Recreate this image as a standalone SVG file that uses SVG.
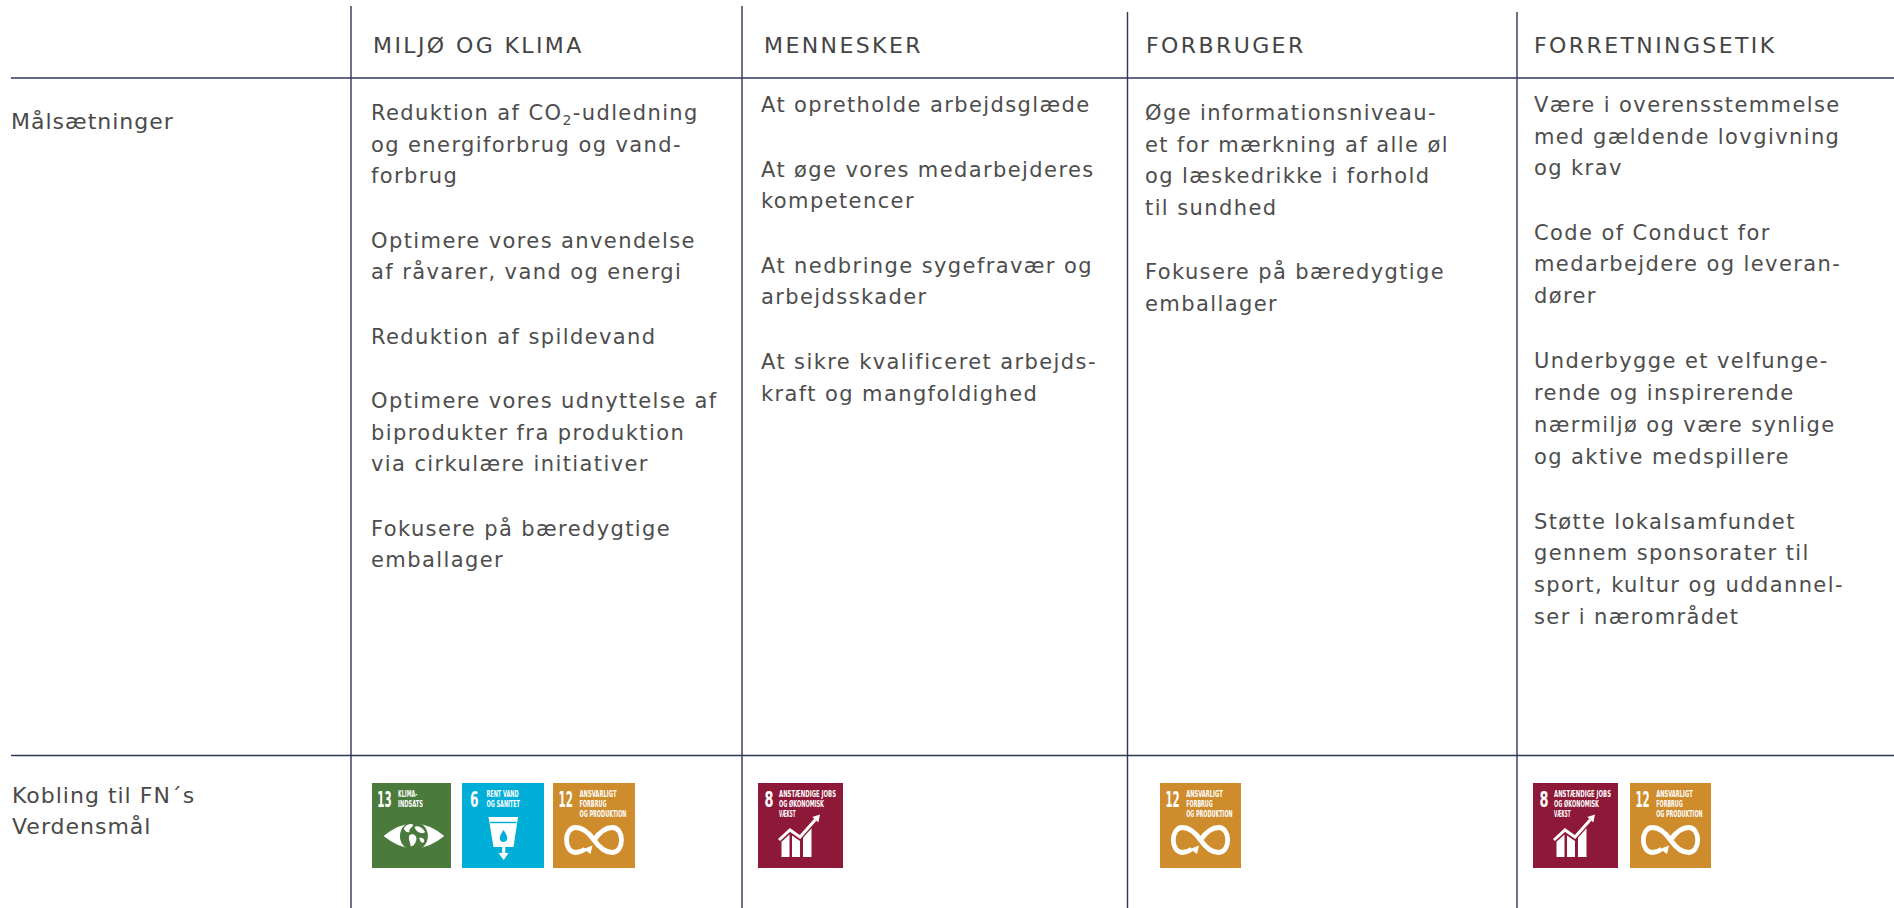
<svg xmlns="http://www.w3.org/2000/svg" xmlns:xlink="http://www.w3.org/1999/xlink" width="1894" height="908" viewBox="0 0 1894 908">
<style>
.ln{stroke:#2f3656;stroke-width:1.4;fill:none}
.hd{font-family:"DejaVu Sans","Liberation Sans",sans-serif;font-size:22px;letter-spacing:2.4px;fill:#444}
.lb{font-family:"DejaVu Sans","Liberation Sans",sans-serif;font-size:22px;letter-spacing:1px;fill:#4a4a4a}
.tx{font-family:"DejaVu Sans","Liberation Sans",sans-serif;font-size:21px;letter-spacing:1.4px;fill:#4d4d4d}
.num{font-family:"DejaVu Sans Condensed","DejaVu Sans",sans-serif;font-weight:bold;font-size:22px;fill:#fff}
.sm{font-family:"DejaVu Sans Condensed","DejaVu Sans",sans-serif;font-weight:bold;font-size:8.2px;fill:#fff}
</style>
<defs>
<symbol id="sdg13" viewBox="0 0 82 85" preserveAspectRatio="none">
<rect width="82" height="85" fill="#4a7a3c"/>
<text class="num" x="5.5" y="24" textLength="15" lengthAdjust="spacingAndGlyphs">13</text>
<text class="sm" x="27" y="14" textLength="20" lengthAdjust="spacingAndGlyphs">KLIMA-</text>
<text class="sm" x="27" y="24" textLength="26" lengthAdjust="spacingAndGlyphs">INDSATS</text>
<path d="M12,53 Q43.5,28 75,53 Q43.5,78 12,53 Z" fill="#fff"/>
<circle cx="43.5" cy="53" r="14.5" fill="#4a7a3c"/>
<path d="M33,45 C36,41 41,40 43,42 C41,45 38,46 39,49 C36,50 34,48 33,45 Z M44,44 C48,42 53,45 55,49 C53,51 50,50 48,49 C46,48 45,46 44,44 Z M39,52 C43,50 47,53 46,57 C45,61 42,64 40,63 C40,59 37,56 39,52 Z M49,55 C52,54 55,56 54,59 C52,61 50,59 49,55 Z" fill="#fff"/>
</symbol>
<symbol id="sdg6" viewBox="0 0 82 85" preserveAspectRatio="none">
<rect width="82" height="85" fill="#00aed8"/>
<text class="num" x="8" y="24" textLength="8.5" lengthAdjust="spacingAndGlyphs">6</text>
<text class="sm" x="24.5" y="14" textLength="32" lengthAdjust="spacingAndGlyphs">RENT VAND</text>
<text class="sm" x="24.5" y="24" textLength="33.5" lengthAdjust="spacingAndGlyphs">OG SANITET</text>
<polygon points="26.5,34 56,34 51.5,64 31.5,64" fill="#fff"/>
<line x1="28" y1="39.5" x2="54.5" y2="39.5" stroke="#00aed8" stroke-width="1.4"/>
<path d="M41.5,47 C38.5,51.5 37.5,54 37.8,56 A3.8,3.8 0 0 0 45.2,56 C45.5,54 44.5,51.5 41.5,47 Z" fill="#00aed8"/>
<rect x="40.2" y="63" width="3" height="8" fill="#fff"/>
<polygon points="36.5,70 46.5,70 41.7,77" fill="#fff"/>
</symbol>
<symbol id="sdg12" viewBox="0 0 82 85" preserveAspectRatio="none">
<rect width="82" height="85" fill="#ce8c2c"/>
<text class="num" x="5.5" y="24" textLength="14.5" lengthAdjust="spacingAndGlyphs">12</text>
<text class="sm" x="26.5" y="14" textLength="37" lengthAdjust="spacingAndGlyphs">ANSVARLIGT</text>
<text class="sm" x="26.5" y="24" textLength="27" lengthAdjust="spacingAndGlyphs">FORBRUG</text>
<text class="sm" x="26.5" y="34" textLength="47" lengthAdjust="spacingAndGlyphs">OG PRODUKTION</text>
<path d="M41,57 C48,47 54,44.5 59.5,44.5 C65.5,44.5 68.5,51 68.5,57 C68.5,63 65.5,69.5 59.5,69.5 C54,69.5 48,67 41,57 C34,47 28,44.5 22.5,44.5 C16.5,44.5 13.5,51 13.5,57 C13.5,63 16.5,69.5 22.5,69.5 C26,69.5 29.5,68 32,66" fill="none" stroke="#fff" stroke-width="4.8"/>
<polygon points="39.5,62.5 37.5,71 30.5,66" fill="#fff"/>
</symbol>
<symbol id="sdg8" viewBox="0 0 85 85" preserveAspectRatio="none">
<rect width="85" height="85" fill="#8e1838"/>
<text class="num" x="6.5" y="24" textLength="9" lengthAdjust="spacingAndGlyphs">8</text>
<text class="sm" x="21" y="14" textLength="57" lengthAdjust="spacingAndGlyphs">ANSTÆNDIGE JOBS</text>
<text class="sm" x="21" y="24" textLength="45" lengthAdjust="spacingAndGlyphs">OG ØKONOMISK</text>
<text class="sm" x="21" y="34" textLength="16.5" lengthAdjust="spacingAndGlyphs">VÆKST</text>
<polygon points="23.5,74 31.5,74 31.5,51.5 23.5,58.7" fill="#fff"/>
<polygon points="34,74 42,74 42,58 34,52.4" fill="#fff"/>
<polygon points="45,74 53.5,74 53.5,45.2 45,54.7" fill="#fff"/>
<polyline points="21,57 32,47 42,54 57.3,36.7" fill="none" stroke="#fff" stroke-width="3"/>
<polygon points="62,31.5 60.3,39.4 54.3,34" fill="#fff"/>
</symbol>
</defs>
<rect width="1894" height="908" fill="#fff"/>
<g id="connectors">
<line class="ln" x1="351" y1="6" x2="351" y2="908"/>
<line class="ln" x1="742" y1="6" x2="742" y2="908"/>
<line class="ln" x1="1127.5" y1="12" x2="1127.5" y2="908"/>
<line class="ln" x1="1517" y1="12" x2="1517" y2="908"/>
<line class="ln" x1="11" y1="78" x2="1894" y2="78"/>
<line class="ln" x1="11" y1="755.5" x2="1894" y2="755.5"/>
</g>
<g id="row-labels">
<text class="lb" x="11" y="129">Målsætninger</text>
<text class="lb" x="12" y="803">Kobling til FN´s</text>
<text class="lb" x="12" y="833.5">Verdensmål</text>
</g>
<g id="col-miljo">
<text class="hd" x="373" y="53">MILJØ OG KLIMA</text>
<text class="tx" x="371" y="120">Reduktion af CO<tspan font-size="14" dy="5">2</tspan><tspan dy="-5">-udledning</tspan></text>
<text class="tx" x="371" y="151.5">og energiforbrug og vand-</text>
<text class="tx" x="371" y="183">forbrug</text>
<text class="tx" x="371" y="247.5">Optimere vores anvendelse</text>
<text class="tx" x="371" y="279">af råvarer, vand og energi</text>
<text class="tx" x="371" y="343.5">Reduktion af spildevand</text>
<text class="tx" x="371" y="408">Optimere vores udnyttelse af</text>
<text class="tx" x="371" y="439.5">biprodukter fra produktion</text>
<text class="tx" x="371" y="471">via cirkulære initiativer</text>
<text class="tx" x="371" y="535.5">Fokusere på bæredygtige</text>
<text class="tx" x="371" y="567">emballager</text>
<use xlink:href="#sdg13" href="#sdg13" x="372" y="783" width="79" height="85"/>
<use xlink:href="#sdg6" href="#sdg6" x="462" y="783" width="82" height="85"/>
<use xlink:href="#sdg12" href="#sdg12" x="553" y="783" width="82" height="85"/>
</g>
<g id="col-mennesker">
<text class="hd" x="764" y="53">MENNESKER</text>
<text class="tx" x="761" y="112">At opretholde arbejdsglæde</text>
<text class="tx" x="761" y="176.5">At øge vores medarbejderes</text>
<text class="tx" x="761" y="208">kompetencer</text>
<text class="tx" x="761" y="272.5">At nedbringe sygefravær og</text>
<text class="tx" x="761" y="304">arbejdsskader</text>
<text class="tx" x="761" y="368.5">At sikre kvalificeret arbejds-</text>
<text class="tx" x="761" y="400.5">kraft og mangfoldighed</text>
<use xlink:href="#sdg8" href="#sdg8" x="758" y="783" width="85" height="85"/>
</g>
<g id="col-forbruger">
<text class="hd" x="1146" y="53">FORBRUGER</text>
<text class="tx" x="1145" y="120">Øge informationsniveau-</text>
<text class="tx" x="1145" y="151.5">et for mærkning af alle øl</text>
<text class="tx" x="1145" y="183">og læskedrikke i forhold</text>
<text class="tx" x="1145" y="214.5">til sundhed</text>
<text class="tx" x="1145" y="279">Fokusere på bæredygtige</text>
<text class="tx" x="1145" y="310.5">emballager</text>
<use xlink:href="#sdg12" href="#sdg12" x="1160" y="783" width="81" height="85"/>
</g>
<g id="col-forretningsetik">
<text class="hd" x="1534" y="53">FORRETNINGSETIK</text>
<text class="tx" x="1534" y="112">Være i overensstemmelse</text>
<text class="tx" x="1534" y="143.5">med gældende lovgivning</text>
<text class="tx" x="1534" y="175">og krav</text>
<text class="tx" x="1534" y="239.5">Code of Conduct for</text>
<text class="tx" x="1534" y="271">medarbejdere og leveran-</text>
<text class="tx" x="1534" y="302.5">dører</text>
<text class="tx" x="1534" y="368">Underbygge et velfunge-</text>
<text class="tx" x="1534" y="400">rende og inspirerende</text>
<text class="tx" x="1534" y="432">nærmiljø og være synlige</text>
<text class="tx" x="1534" y="464">og aktive medspillere</text>
<text class="tx" x="1534" y="528.5">Støtte lokalsamfundet</text>
<text class="tx" x="1534" y="560">gennem sponsorater til</text>
<text class="tx" x="1534" y="592">sport, kultur og uddannel-</text>
<text class="tx" x="1534" y="624">ser i nærområdet</text>
<use xlink:href="#sdg8" href="#sdg8" x="1533" y="783" width="85" height="85"/>
<use xlink:href="#sdg12" href="#sdg12" x="1630" y="783" width="81" height="85"/>
</g>
</svg>
